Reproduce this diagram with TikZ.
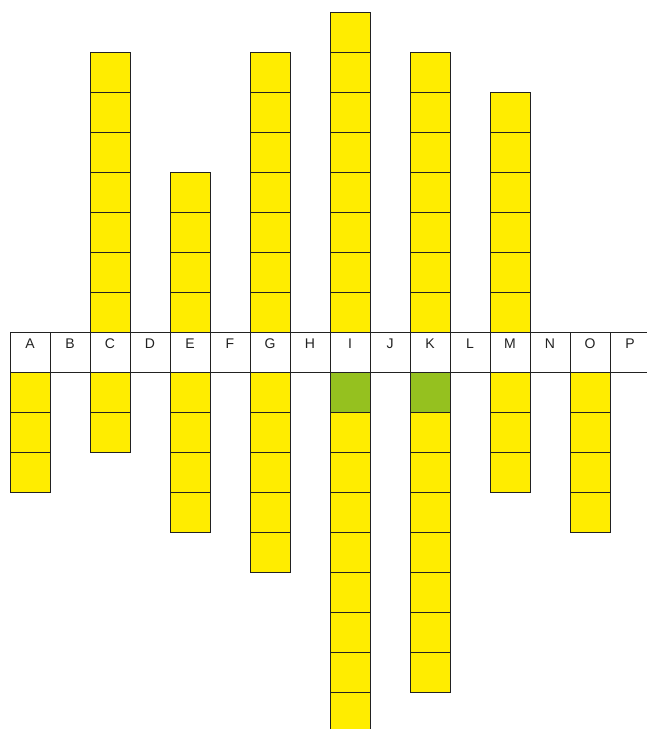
\documentclass[tikz,border=0pt]{standalone}
\usepackage{fontspec}
\setmainfont{Liberation Sans}
\definecolor{cellyellow}{HTML}{FFED00}
\definecolor{cellgreen}{HTML}{95C11F}
\definecolor{edge}{HTML}{222222}
\tikzset{
  cellbox/.style={draw=edge, line width=1pt, minimum width=40pt, minimum height=40pt, inner sep=0pt, anchor=north west},
  yel/.style={cellbox, fill=cellyellow},
  grn/.style={cellbox, fill=cellgreen},
  hdr/.style={cellbox, fill=white},
  letter/.style={font=\fontsize{14}{16}\selectfont, text=edge, inner sep=0pt}
}
\begin{document}
\begin{tikzpicture}[x=1pt,y=-1pt]
\useasboundingbox (0,0) rectangle (647,729);
\clip (0,0) rectangle (647,729);
% header row
\foreach \L [count=\i from 0] in {A,B,C,D,E,F,G,H,I,J,K,L,M,N,O,P} {
  \node[hdr] (h\L) at ({10+40*\i},332) {};
  \node[letter] (t\L) at ({30+40*\i},344) {\L};
}
% columns above the row: column index / number of cells
\foreach \c/\n in {2/7,4/4,6/7,8/8,10/7,12/6} {
  \foreach \r in {1,...,\n} {
    \node[yel] (u\c-\r) at ({10+40*\c},{332-40*\r}) {};
  }
}
% columns below the row
\foreach \c/\n in {0/3,2/2,4/4,6/5,8/9,10/8,12/3,14/4} {
  \foreach \r in {1,...,\n} {
    \node[yel] (d\c-\r) at ({10+40*\c},{372+40*(\r-1)}) {};
  }
}
\node[grn] (g8) at (330,372) {};
\node[grn] (g10) at (410,372) {};
\end{tikzpicture}
\end{document}
